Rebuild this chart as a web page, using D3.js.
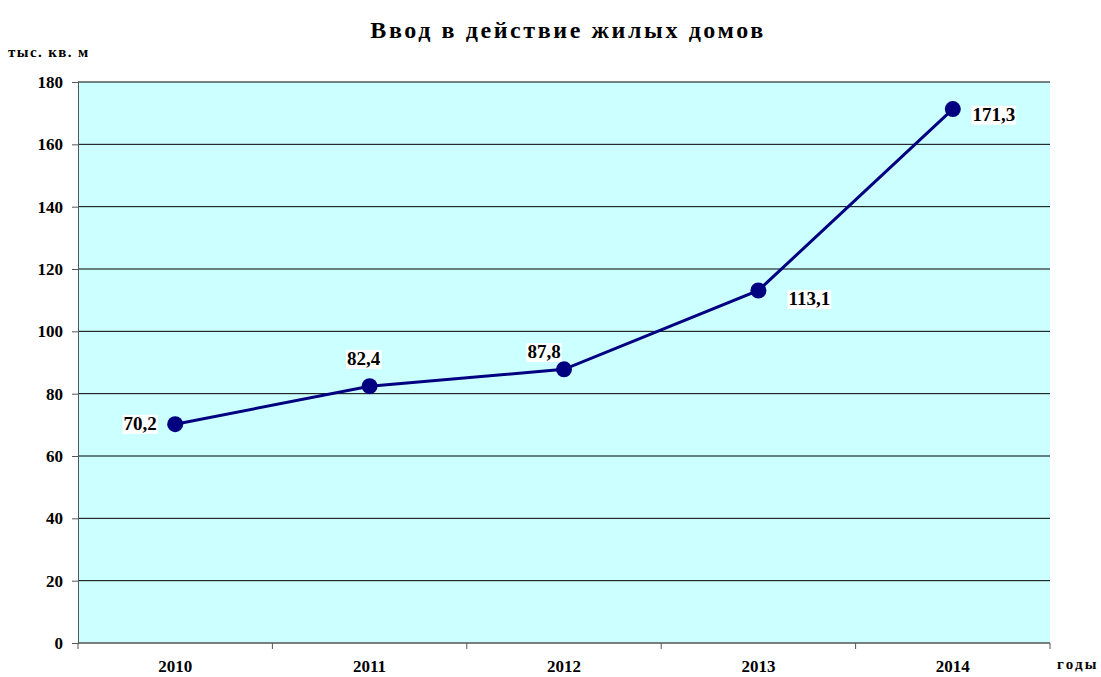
<!DOCTYPE html>
<html>
<head>
<meta charset="utf-8">
<script src="https://cdn.jsdelivr.net/npm/d3@7"></script>
<style>
  body { margin: 0; background: #fff; }
</style>
</head>
<body>
<svg id="chart" width="1101" height="677"></svg>
<script>
const years = ['2010', '2011', '2012', '2013', '2014'];
const values = [70.2, 82.4, 87.8, 113.1, 171.3];
const valueLabels = ['70,2', '82,4', '87,8', '113,1', '171,3'];
const yTicks = [0, 20, 40, 60, 80, 100, 120, 140, 160, 180];

const FONT = "'Liberation Serif', 'Times New Roman', 'DejaVu Serif', serif";

const svg = d3.select('#chart')
    .attr('font-family', FONT)
    .attr('font-weight', 'bold');
const margin = { top: 82, right: 51, bottom: 34, left: 78 };
const width = 1101, height = 677;

const x = d3.scaleBand()
    .domain(years)
    .range([margin.left, width - margin.right]);

const y = d3.scaleLinear()
    .domain([0, 180])
    .range([height - margin.bottom, margin.top]);

// plot area
svg.append('rect')
    .attr('x', margin.left)
    .attr('y', margin.top)
    .attr('width', width - margin.left - margin.right)
    .attr('height', height - margin.top - margin.bottom)
    .attr('fill', '#ccffff');

// gridlines
svg.append('g')
    .selectAll('line')
    .data(yTicks.filter(d => d > 0))
    .enter().append('line')
    .attr('x1', margin.left)
    .attr('x2', width - margin.right)
    .attr('y1', d => y(d))
    .attr('y2', d => y(d))
    .attr('stroke', '#000')
    .attr('stroke-width', 1);

// y axis
const yAxis = svg.append('g')
    .attr('transform', `translate(${margin.left},0)`)
    .call(d3.axisLeft(y).tickValues(yTicks).tickSize(6).tickPadding(9));
yAxis.attr('font-family', FONT).attr('font-size', 17);
yAxis.select('.domain').attr('stroke', '#555');
yAxis.selectAll('.tick line').attr('stroke', '#555');
yAxis.selectAll('text').attr('fill', '#000');

// x axis: ticks at category boundaries
const xAxis = svg.append('g')
    .attr('transform', `translate(0,${y(0)})`);
xAxis.append('line')
    .attr('x1', margin.left).attr('x2', width - margin.right)
    .attr('y1', 0).attr('y2', 0)
    .attr('stroke', '#555').attr('stroke-width', 1.5);
const bounds = years.map(d => x(d)).concat([x(years[years.length - 1]) + x.bandwidth()]);
xAxis.selectAll('line.tk')
    .data(bounds)
    .enter().append('line')
    .attr('class', 'tk')
    .attr('x1', d => d).attr('x2', d => d)
    .attr('y1', 0).attr('y2', 6)
    .attr('stroke', '#555');
xAxis.selectAll('text')
    .data(years)
    .enter().append('text')
    .attr('x', d => x(d) + x.bandwidth() / 2)
    .attr('y', 29)
    .attr('text-anchor', 'middle')
    .attr('font-size', 17)
    .text(d => d);

// line
const cx = (d, i) => x(years[i]) + x.bandwidth() / 2;
const line = d3.line()
    .x(cx)
    .y(d => y(d));

svg.append('path')
    .datum(values)
    .attr('d', line)
    .attr('fill', 'none')
    .attr('stroke', '#000080')
    .attr('stroke-width', 3);

svg.selectAll('circle.pt')
    .data(values)
    .enter().append('circle')
    .attr('class', 'pt')
    .attr('cx', cx)
    .attr('cy', d => y(d))
    .attr('r', 8)
    .attr('fill', '#000080');

// data labels (offsets relative to the point)
const labelOffsets = [[-35, -1], [-6, -28], [-20, -18], [51, 8], [41, 5]];
const labels = svg.selectAll('g.lbl')
    .data(values)
    .enter().append('g')
    .attr('class', 'lbl')
    .attr('transform', (d, i) => `translate(${cx(d, i) + labelOffsets[i][0]},${y(d) + labelOffsets[i][1]})`);

labels.append('text')
    .attr('text-anchor', 'middle')
    .attr('dy', '0.35em')
    .attr('font-size', 19)
    .text((d, i) => valueLabels[i]);

labels.each(function() {
    const g = d3.select(this);
    const bb = g.select('text').node().getBBox();
    g.insert('rect', 'text')
        .attr('x', bb.x - 1).attr('y', bb.y + 2)
        .attr('width', bb.width + 2).attr('height', bb.height - 2)
        .attr('fill', '#fff');
});

// titles
svg.append('text')
    .attr('x', 568).attr('y', 38)
    .attr('text-anchor', 'middle')
    .attr('font-size', 24)
    .attr('letter-spacing', 2.6)
    .text('Ввод в действие жилых домов');

svg.append('text')
    .attr('x', 8).attr('y', 57)
    .attr('font-size', 15)
    .attr('letter-spacing', 1.4)
    .text('тыс. кв. м');

svg.append('text')
    .attr('x', 1057).attr('y', 669)
    .attr('font-size', 15)
    .attr('letter-spacing', 2.2)
    .text('годы');
</script>
</body>
</html>
